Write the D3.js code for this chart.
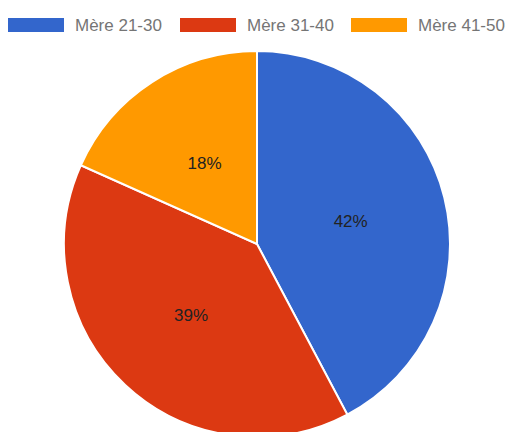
<!DOCTYPE html>
<html>
<head>
<meta charset="utf-8">
<script src="https://cdn.jsdelivr.net/npm/d3@7"></script>
<style>
  html, body { margin: 0; padding: 0; background: #fff; }
  svg { display: block; font-family: Arial, "Liberation Sans", sans-serif; }
</style>
</head>
<body>
<div id="chart"></div>
<script>
// Data
const categories = ["Mère 21-30", "Mère 31-40", "Mère 41-50"];
const counts = [30, 28, 13];
const colors = ["#3366cc", "#dc3912", "#ff9900"];

const width = 508;
const height = 432;
const cx = 257, cy = 244, radius = 193;

const svg = d3.select("#chart").append("svg")
    .attr("width", width)
    .attr("height", height);

// Legend
const legendX = [8, 180, 351];
const legend = svg.selectAll("g.legend")
    .data(categories)
    .join("g")
    .attr("class", "legend")
    .attr("transform", (d, i) => `translate(${legendX[i]}, 18)`);

legend.append("rect")
    .attr("width", 56)
    .attr("height", 14)
    .attr("fill", (d, i) => colors[i]);

legend.append("text")
    .attr("x", 67)
    .attr("y", 13)
    .attr("fill", "#757575")
    .style("font-size", "17px")
    .text(d => d);

// Pie
const data = categories.map((c, i) => ({ name: c, value: counts[i] }));
const total = d3.sum(counts);

const pie = d3.pie().value(d => d.value).sort(null);
const arc = d3.arc().innerRadius(0).outerRadius(radius);

const g = svg.append("g").attr("transform", `translate(${cx}, ${cy})`);

const slices = pie(data);

g.selectAll("path")
    .data(slices)
    .join("path")
    .attr("d", arc)
    .attr("fill", (d, i) => colors[i])
    .attr("stroke", "#fff")
    .attr("stroke-width", 2);

g.selectAll("text")
    .data(slices)
    .join("text")
    .attr("transform", d => `translate(${arc.centroid(d)})`)
    .attr("text-anchor", "middle")
    .attr("dy", "0.36em")
    .attr("fill", "#222")
    .style("font-size", "17px")
    .text(d => Math.round(d.data.value / total * 100) + "%");
</script>
</body>
</html>
